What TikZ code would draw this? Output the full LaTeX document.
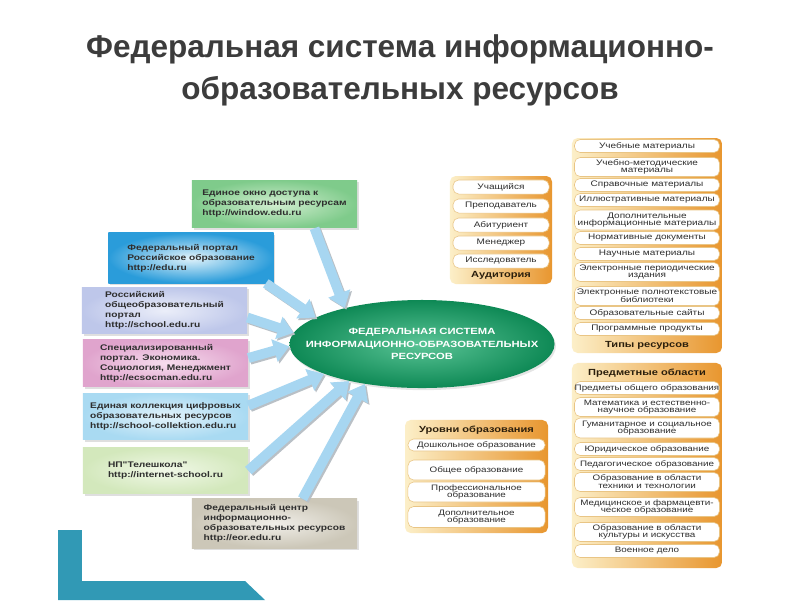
\documentclass[tikz,border=0pt]{standalone}
\usepackage{fontspec}
\setmainfont{Liberation Sans}
\newfontfamily\widefont[FakeStretch=1.25]{Liberation Sans}
\usepackage{tikz}
\usetikzlibrary{positioning}
\usetikzlibrary{calc}
\usetikzlibrary{shapes.geometric}
\usetikzlibrary{arrows.meta}
\usetikzlibrary{shadows}
\usepackage{xcolor}

\definecolor{titlegray}{HTML}{3C3C3C}
\definecolor{textgray}{HTML}{2E2E2E}
\definecolor{labelbrown}{HTML}{2A1E0C}
\definecolor{panelL}{HTML}{FCEFC8}
\definecolor{panelR}{HTML}{E8962F}
\definecolor{pillline}{HTML}{E9C585}
\definecolor{sysOut}{HTML}{0E8955}
\definecolor{sysIn}{HTML}{5AC496}
\definecolor{flowblue}{HTML}{A7D6F1}
\definecolor{flowshade}{HTML}{B9C0C6}
\definecolor{slideteal}{HTML}{3199B5}
\definecolor{winOut}{HTML}{7FCB8B}
\definecolor{winIn}{HTML}{D2EED0}
\definecolor{eduOut}{HTML}{2A9CDA}
\definecolor{eduIn}{HTML}{E2F3FB}
\definecolor{schOut}{HTML}{BEC7EA}
\definecolor{schIn}{HTML}{EBEEF9}
\definecolor{ecoOut}{HTML}{E0A4CD}
\definecolor{ecoIn}{HTML}{F6DDEE}
\definecolor{colOut}{HTML}{A9DAF2}
\definecolor{colIn}{HTML}{E3F3FB}
\definecolor{telOut}{HTML}{D3E8BC}
\definecolor{telIn}{HTML}{F1F8E8}
\definecolor{eorOut}{HTML}{CCC7B8}
\definecolor{eorIn}{HTML}{F0EEE8}

\tikzset{
  titletxt/.style={align=center, text=titlegray, font=\bfseries\fontsize{22.4}{27}\selectfont},
  srcbox/.style={minimum width=117.4pt, minimum height=34.1pt, inner sep=1pt, align=left,
    text=textgray, font=\widefont\bfseries\fontsize{5.8}{7.1}\selectfont,
    drop shadow={opacity=0.25, shadow xshift=1.2pt, shadow yshift=-1.2pt}},
  sysell/.style={ellipse, minimum width=188.5pt, minimum height=62.6pt, inner sep=0pt,
    inner color=sysIn, outer color=sysOut,
    drop shadow={opacity=0.2, shadow xshift=1pt, shadow yshift=-1.5pt}},
  systxt/.style={align=center, text=white, inner sep=0pt,
    font=\widefont\bfseries\fontsize{6.4}{8.8}\selectfont},
  flow/.style={flowblue, line width=7pt, -{Triangle[length=11pt,width=16pt]}},
  flowshadow/.style={flowshade, line width=7pt, -{Triangle[length=11pt,width=16pt]},
    transform canvas={shift={(1.2pt,-1.2pt)}}},
  panel/.style={rounded corners=4pt, left color=panelL, right color=panelR, inner sep=0pt},
  pill/.style={rounded corners=4pt, fill=white, draw=pillline, line width=0.4pt,
    inner sep=0pt, align=center, text=textgray,
    font=\widefont\fontsize{5.7}{5.5}\selectfont},
  paneltitle/.style={text=labelbrown, inner sep=0pt, font=\widefont\bfseries\fontsize{6.3}{7}\selectfont}
}

\begin{document}
\begin{tikzpicture}[x=0.025cm, y=-0.025cm]
\useasboundingbox (0,0) rectangle (800,600);
\fill[white] (0,0) rectangle (800,600);

% corner of the slide
\fill[slideteal] (58,530)--++(24,0)--++(0,51)--++(163,0)--++(20,19)--++(-207,0)--cycle;
\fill[white] (82,125) rectangle (740,581);

% title
\node (title) at (400,70) [titletxt] {Федеральная система информационно-\\[3pt]образовательных ресурсов};

% centre
\node (sys) at (422,344) [sysell,
  label={[systxt]center:ФЕДЕРАЛЬНАЯ СИСТЕМА\\ИНФОРМАЦИОННО-ОБРАЗОВАТЕЛЬНЫХ\\РЕСУРСОВ}] {};

% portals
{
\node (win) at (274.5,204) [srcbox, inner color=winIn, outer color=winOut]
{Единое окно доступа к\\образовательным ресурсам\\http://window.edu.ru};
\node (edu) at (191,258) [srcbox, minimum height=35.6pt, inner color=eduIn, outer color=eduOut]
{Федеральный портал\\Российское образование\\http://edu.ru};
\node (school) at (164.5,310.5) [srcbox, minimum height=33.4pt, inner color=schIn, outer color=schOut]
{Российский\\общеобразовательный\\портал\\http://school.edu.ru};
\node (ecsoc) at (165.5,363) [srcbox, inner color=ecoIn, outer color=ecoOut]
{Специализированный\\портал. Экономика.\\Социология, Менеджмент\\http://ecsocman.edu.ru};
\node (coll) at (165.5,416.5) [srcbox, minimum height=33.4pt, inner color=colIn, outer color=colOut]
{Единая коллекция цифровых\\образовательных ресурсов\\http://school-collektion.edu.ru};
\node (tele) at (165.5,470.5) [srcbox, minimum height=33.4pt, inner color=telIn, outer color=telOut]
{НП"Телешкола"\\http://internet-school.ru};
\node (eor) at (274.5,523.5) [srcbox, minimum height=34.9pt, inner color=eorIn, outer color=eorOut]
{Федеральный центр\\информационно-\\образовательных ресурсов\\http://eor.edu.ru};
}

% arrows
{
\coordinate (win-out) at ($(win.south)+(40,0)$);
\coordinate (edu-out) at ($(edu.south east)+(-8,0)$);
\coordinate (school-out) at ($(school.east)+(0,7)$);
\coordinate (ecsoc-out) at ($(ecsoc.east)+(0,-5)$);
\coordinate (coll-out) at ($(coll.east)+(0,-11)$);
\coordinate (tele-out) at (tele.east);
\coordinate (eor-out) at ($(eor.north)+(28,0)$);

\foreach \a/\b in {win-out/155, edu-out/166, school-out/175, ecsoc-out/181,
                   coll-out/197, tele-out/207, eor-out/215}
{
\draw[flowshadow] (\a) -- (sys.\b);
\draw[flow] (\a) -- (sys.\b);
}
}

% audience
{
\node (aud) at (501,230) [panel, minimum width=72.6pt, minimum height=76.8pt] {};
\foreach \y/\t in {187/Учащийся, 206/Преподаватель, 225/Абитуриент, 243/Менеджер, 261/Исследователь}
  \node (aud-\y) at (501,\y) [pill, minimum width=68.3pt, minimum height=10pt,
    font=\widefont\fontsize{5.7}{5.5}\selectfont] {\t};
\node (aud-lbl) at (501,275) [paneltitle] {Аудитория};
}

% resource types
{
\node (typ) at (647,245.5) [panel, minimum width=106.7pt, minimum height=152.9pt] {};
\foreach \y/\h/\t in {146/13/{Учебные материалы},
                      167/19/{Учебно-методические\\материалы},
                      185/13/{Справочные материалы},
                      200/13/{Иллюстративные материалы},
                      220/20/{Дополнительные\\информационные материалы},
                      238/13/{Нормативные документы},
                      254/13/{Научные материалы},
                      272/19/{Электронные периодические\\издания},
                      296/19/{Электронные полнотекстовые\\библиотеки},
                      313/13/{Образовательные сайты},
                      329/13/{Программные продукты}}
  \node (typ-\y) at (647,\y) [pill, minimum width=103.1pt, minimum height=\h*0.7113pt] {\t};
\node (typ-lbl) at (647,345) [paneltitle] {Типы ресурсов};
}

% subject areas
{
\node (subj) at (647,465.5) [panel, minimum width=106.7pt, minimum height=145.8pt] {};
\node (subj-lbl) at (647,373) [paneltitle] {Предметные области};
\foreach \y/\h/\t in {388/13/{Предметы общего образования},
                      407/19/{Математика и естественно-\\научное образование},
                      428/20/{Гуманитарное и социальное\\образование},
                      449/13/{Юридическое образование},
                      464/13/{Педагогическое образование},
                      482/19/{Образование в области\\техники и технологии},
                      507/19/{Медицинское и фармацевти-\\ческое образование},
                      532/19/{Образование в области\\культуры и искусства},
                      551/13/{Военное дело}}
  \node (subj-\y) at (647,\y) [pill, minimum width=103.1pt, minimum height=\h*0.7113pt,
    font=\widefont\fontsize{5.6}{5.5}\selectfont] {\t};
}

% levels
{
\node (lev) at (476.5,476.5) [panel, minimum width=101.7pt, minimum height=80.4pt] {};
\node (lev-lbl) at (476.5,430) [paneltitle] {Уровни образования};
\foreach \y/\h/\t in {445/12/{Дошкольное образование},
                      470/20/{Общее образование},
                      492/20/{Профессиональное\\образование},
                      517/21/{Дополнительное\\образование}}
  \node (lev-\y) at (476.5,\y) [pill, minimum width=97.5pt, minimum height=\h*0.7113pt,
    font=\widefont\fontsize{5.6}{5.5}\selectfont] {\t};
}

\end{tikzpicture}
\end{document}
